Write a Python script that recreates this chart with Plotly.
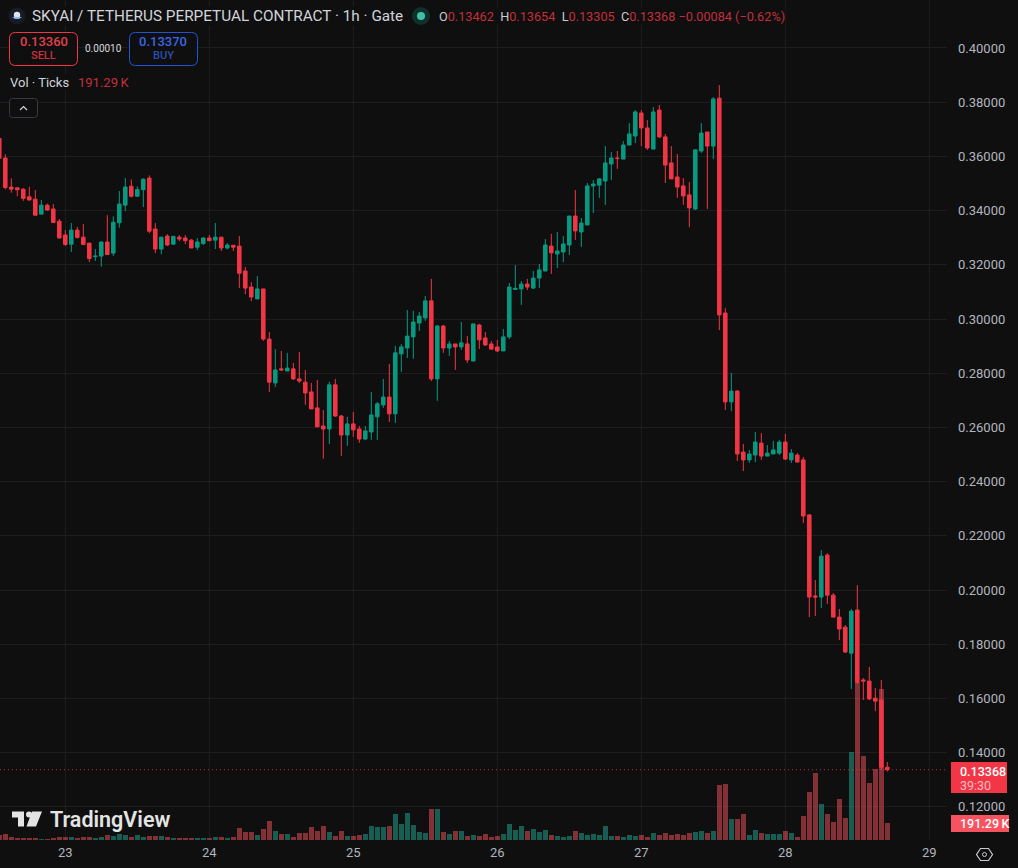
import pandas as pd
import plotly.graph_objects as go

# Hourly SKYAI/USDT perpetual candles, first bar 22nd 13:00
FIRST_BAR = "2025-01-22 13:00"

opens = [
    .3666, .3594, .3487, .3484, .3479, .3451, .3442, .3387, .3420, .3406, .3361,
    .3310, .3276, .3328, .3302, .3280, .3230, .3232, .3284, .3243, .3355, .3420, .3490, .3453, .3477,
    .3520, .3332, .3258, .3306, .3276, .3302, .3299, .3291, .3265, .3279,
    .3299, .3291, .3302, .3262, .3272, .3269, .3177, .3118, .3074, .3111, .2926, .2764, .2816, .2808,
    .2816, .2779, .2767, .2731, .2672, .2605, .2594, .2757, .2642, .2572,
    .2613, .2594, .2557, .2583, .2639, .2683, .2712, .2650, .2871, .2893, .2934, .2985, .3004, .3067,
    .2779, .2974, .2893, .2908, .2897, .2908, .2845, .2978, .2930, .2908,
    .2897, .2882, .2934, .3109, .3111, .3129, .3114, .3151, .3177, .3269, .3240, .3247, .3273, .3380,
    .3321, .3347, .3491, .3494, .3509, .3572, .3594, .3590, .3642, .3675,
    .3760, .3705, .3627, .3771, .3672, .3576, .3524, .3491, .3458, .3406, .3620, .3690, .3638, .3815,
    .3022, .2694, .2734, .2509, .2480, .2498, .2542, .2494, .2502, .2505,
    .2546, .2480, .2498, .2480, .2277, .1978, .1974, .2129, .1981, .1900, .1863, .1767, .1926, .1668,
    .1664, .1601, .1594, .13462,
]
highs = [
    .3672, .3608, .3519, .3485, .3483, .3488, .3476, .3439, .3426, .3424, .3369,
    .3328, .3354, .3340, .3350, .3280, .3258, .3286, .3383, .3379, .3472, .3520, .3515, .3490, .3519,
    .3530, .3354, .3303, .3313, .3306, .3310, .3310, .3295, .3299, .3302,
    .3310, .3354, .3303, .3280, .3273, .3306, .3192, .3136, .3158, .3111, .2952, .2889, .2882, .2875,
    .2838, .2878, .2812, .2764, .2775, .2664, .2768, .2779, .2646, .2639,
    .2657, .2605, .2605, .2731, .2694, .2779, .2834, .2901, .2908, .3033, .3030, .3026, .3085, .3148,
    .2978, .2978, .2919, .2908, .2989, .2937, .2982, .2982, .2952, .2919,
    .2923, .2963, .3133, .3199, .3140, .3148, .3177, .3203, .3295, .3314, .3321, .3306, .3380, .3476,
    .3373, .3502, .3513, .3520, .3638, .3616, .3620, .3657, .3723, .3771,
    .3771, .3734, .3782, .3790, .3683, .3638, .3609, .3520, .3505, .3627, .3723, .3690, .3819, .3863,
    .3040, .2801, .2738, .2539, .2517, .2583, .2579, .2535, .2550, .2553,
    .2576, .2520, .2505, .2491, .2280, .2037, .2147, .2136, .1989, .1930, .1871, .1930, .2018, .1675,
    .1716, .1638, .1668, .13654,
]
lows = [
    .3585, .3479, .3466, .3453, .3436, .3439, .3383, .3387, .3399, .3354, .3297,
    .3270, .3247, .3297, .3273, .3210, .3214, .3193, .3236, .3232, .3337, .3398, .3449, .3451, .3413,
    .3317, .3243, .3239, .3269, .3276, .3287, .3276, .3262, .3254, .3273,
    .3287, .3258, .3251, .3257, .3251, .3114, .3092, .3066, .3074, .2919, .2731, .2749, .2808, .2808,
    .2775, .2764, .2683, .2668, .2602, .2484, .2539, .2639, .2495, .2532,
    .2565, .2543, .2554, .2554, .2554, .2672, .2620, .2616, .2805, .2856, .2853, .2956, .2993, .2771,
    .2698, .2875, .2864, .2812, .2886, .2838, .2845, .2889, .2901, .2886,
    .2878, .2882, .2926, .3107, .3052, .3107, .3111, .3114, .3177, .3166, .3188, .3210, .3236, .3292,
    .3266, .3347, .3391, .3447, .3421, .3513, .3554, .3590, .3642, .3649,
    .3638, .3624, .3627, .3668, .3502, .3517, .3447, .3421, .3339, .3402, .3613, .3406, .3590, .2959,
    .2664, .2660, .2476, .2439, .2469, .2472, .2480, .2494, .2502, .2498,
    .2480, .2469, .2472, .2247, .1900, .1904, .1934, .1948, .1900, .1815, .1767, .1635, .1653, .1594,
    .1594, .1553, .1336, .13305,
]
closes = [
    .3593, .3485, .3479, .3477, .3445, .3439, .3383, .3420, .3402, .3356, .3299,
    .3275, .3328, .3301, .3275, .3223, .3232, .3284, .3238, .3357, .3424, .3487, .3453, .3478, .3516,
    .3324, .3258, .3302, .3273, .3305, .3295, .3289, .3262, .3284, .3299,
    .3289, .3302, .3262, .3273, .3265, .3169, .3114, .3081, .3111, .2926, .2767, .2812, .2812, .2819,
    .2779, .2771, .2727, .2668, .2602, .2594, .2757, .2642, .2572, .2613,
    .2591, .2557, .2587, .2646, .2687, .2712, .2650, .2875, .2897, .2937, .2989, .3011, .3067, .2779,
    .2974, .2893, .2908, .2897, .2912, .2849, .2982, .2923, .2904, .2889,
    .2882, .2934, .3118, .3113, .3129, .3118, .3151, .3181, .3273, .3244, .3251, .3277, .3380, .3325,
    .3354, .3491, .3498, .3517, .3576, .3594, .3592, .3642, .3683, .3764,
    .3705, .3631, .3764, .3672, .3568, .3517, .3487, .3454, .3410, .3624, .3686, .3638, .3812, .3015,
    .2694, .2734, .2502, .2480, .2502, .2546, .2494, .2505, .2517, .2546,
    .2483, .2505, .2472, .2273, .1974, .1974, .2125, .1981, .1900, .1856, .1771, .1922, .1660, .1664,
    .1598, .1590, .13462, .13368,
]
# Tick volume in thousands
volumes = [
    55, 66, 29, 18, 18, 18, 18, 15, 11, 18, 33,
    33, 29, 18, 33, 33, 18, 33, 55, 44, 66, 55, 29, 55, 33,
    44, 44, 44, 33, 18, 18, 18, 18, 18, 18,
    18, 33, 33, 18, 33, 132, 88, 88, 55, 121, 210, 99, 66, 66,
    33, 77, 77, 144, 99, 155, 88, 44, 99, 44,
    44, 55, 66, 155, 144, 144, 155, 287, 177, 298, 166, 88, 77, 342,
    342, 88, 66, 99, 99, 44, 55, 44, 66, 33,
    44, 66, 177, 110, 155, 99, 121, 88, 110, 55, 44, 33, 44, 99,
    77, 55, 66, 55, 155, 44, 44, 33, 55, 44,
    55, 33, 77, 55, 77, 55, 66, 55, 77, 88, 99, 77, 99, 607,
    618, 232, 232, 287, 55, 110, 77, 66, 66, 66,
    99, 77, 33, 265, 530, 740, 397, 287, 199, 453, 243, 972, 1748, 927,
    629, 784, 1667, 191.29,
]

DAY_TICKS = "%-d"
PRICE_TICKS = [0.12, 0.14, 0.16, 0.18, 0.20, 0.22, 0.24, 0.26, 0.28, 0.30, 0.32, 0.34, 0.36, 0.38, 0.40]
SELL_PRICE, SPREAD, BUY_PRICE = "0.13360", "0.00010", "0.13370"
OHLC_LABELS = ["O0.13462", "H0.13654", "L0.13305", "C0.13368"]
CHANGE_LABEL = "−0.00084 (−0.62%)"
COUNTDOWN = "39:30"
VOLUME_LABEL = "191.29\u2009K"

BG = "#0f0f0f"
GRID = "#1d1d1d"
UP = "#089981"
DOWN = "#f23645"
UP_VOL = "rgba(34,171,148,0.5)"
DOWN_VOL = "rgba(247,82,95,0.5)"
TEXT = "#d1d4dc"
AXIS_TEXT = "#b2b5be"
DIM_RED = "#c2303c"
FONT = "Roboto, sans-serif"

# Plot pane size in page pixels; overlays are positioned relative to it
PANE_W, PANE_H = 947, 840


def fx(x):
    return x / PANE_W


def fy(y):
    return 1 - y / PANE_H


times = pd.date_range(FIRST_BAR, periods=len(closes), freq="h")
vol_colors = [UP_VOL if c >= o else DOWN_VOL for o, c in zip(opens, closes)]

fig = go.Figure()
fig.add_bar(
    x=times, y=volumes, width=3_000_000, marker=dict(color=vol_colors, line_width=0),
    yaxis="y", hoverinfo="skip",
)
fig.add_candlestick(
    x=times, open=opens, high=highs, low=lows, close=closes, yaxis="y2", whiskerwidth=0,
    increasing=dict(line=dict(color=UP, width=1), fillcolor=UP),
    decreasing=dict(line=dict(color=DOWN, width=1), fillcolor=DOWN),
    hoverinfo="skip",
)


def text(x, y, s, size=12, color=TEXT, anchor="left", bg=None, weight=None):
    fig.add_annotation(
        x=fx(x), y=fy(y), xref="paper", yref="paper", text=s, showarrow=False,
        xanchor=anchor, yanchor="middle", borderpad=0, bgcolor=bg,
        font=dict(family=FONT, size=size, color=color, weight=weight),
    )


def rect(x0, y0, x1, y1, fill, line=None):
    fig.add_shape(
        type="rect", xref="paper", yref="paper", x0=fx(x0), x1=fx(x1), y0=fy(y0), y1=fy(y1),
        fillcolor=fill, line=dict(color=line or fill, width=1 if line else 0),
    )


def path(points, fill=None, line=None, width=1, close=True):
    d = "M" + " L".join(f"{fx(x):.5f},{fy(y):.5f}" for x, y in points) + (" Z" if close else "")
    fig.add_shape(
        type="path", xref="paper", yref="paper", path=d, fillcolor=fill or "rgba(0,0,0,0)",
        line=dict(color=line or "rgba(0,0,0,0)", width=width if line else 0),
    )


def round_box(x0, y0, x1, y1, r, fill, line):
    X = lambda v: f"{fx(v):.5f}"
    Y = lambda v: f"{fy(v):.5f}"
    d = (
        f"M{X(x0 + r)},{Y(y0)} L{X(x1 - r)},{Y(y0)} Q{X(x1)},{Y(y0)} {X(x1)},{Y(y0 + r)} "
        f"L{X(x1)},{Y(y1 - r)} Q{X(x1)},{Y(y1)} {X(x1 - r)},{Y(y1)} "
        f"L{X(x0 + r)},{Y(y1)} Q{X(x0)},{Y(y1)} {X(x0)},{Y(y1 - r)} "
        f"L{X(x0)},{Y(y0 + r)} Q{X(x0)},{Y(y0)} {X(x0 + r)},{Y(y0)} Z"
    )
    fig.add_shape(
        type="path", xref="paper", yref="paper", path=d, fillcolor=fill,
        line=dict(color=line, width=1),
    )


def circle(cx, cy, r, fill, line=None):
    fig.add_shape(
        type="circle", xref="paper", yref="paper", x0=fx(cx - r), x1=fx(cx + r),
        y0=fy(cy + r), y1=fy(cy - r), fillcolor=fill,
        line=dict(color=line or fill, width=1 if line else 0),
    )


# Last-price guide line
fig.add_shape(
    type="line", xref="paper", yref="y2", x0=0, x1=1, y0=closes[-1], y1=closes[-1],
    line=dict(color="rgba(242,54,69,0.75)", width=1, dash="1px,3px"),
)

# Symbol header
circle(17, 16, 8.5, "#161c26")
circle(17, 15, 3.2, "#dfe6f2")
path([(12, 17), (22, 17), (19, 19), (15, 19)], fill="#8fb0e0")
text(30.5, 16, "SKYAI / TETHERUS PERPETUAL CONTRACT · 1h · Gate", size=15.3, bg=BG)
circle(421, 16, 9, "#10302c")
circle(421, 16, 4, "#3cc2a5")
ohlc = "  ".join(
    f'<span style="color:#c8cad0">{s[0]}</span><span style="color:{DIM_RED}">{s[1:]}</span>'
    for s in OHLC_LABELS
)
text(437.5, 16, f'{ohlc} <span style="color:{DIM_RED}">{CHANGE_LABEL}</span>', size=12.7, bg=BG)

# Sell / spread / buy buttons
round_box(9.5, 32.5, 77.5, 65.5, 6, BG, DOWN)
text(43.5, 41.5, SELL_PRICE, size=13, color="#e0404c", anchor="center", weight=500)
text(43.5, 56, "SELL", size=11, color="#c9303c", anchor="center", weight=500)
text(103, 48.5, SPREAD, size=10, color="#d8dade", anchor="center")
round_box(129.5, 32.5, 197.5, 65.5, 6, BG, "#2156d8")
text(163, 41.5, BUY_PRICE, size=13, color="#3a66e6", anchor="center", weight=500)
text(163, 56, "BUY", size=11, color="#2a4fb4", anchor="center", weight=500)

# Volume legend and collapse button
text(9, 82.5, "Vol · Ticks", size=13, bg=BG)
text(76.5, 82.5, VOLUME_LABEL, size=13, color=DIM_RED, bg=BG)
round_box(9.5, 98.5, 37.5, 117.5, 3, BG, "#363a45")
path([(20, 110), (23.5, 106.5), (27, 110)], line="#d1d4dc", width=1.2, close=False)

# Right-hand price tags
rect(951, 762, 1007, 793, "#f23645")
text(959, 771, f"{closes[-1]:.5f}", size=12.5, color="#ffffff", weight=500)
text(959, 785, COUNTDOWN, size=12.5, color="#f9bcc1")
rect(951, 815, 1009, 832, "#f7525f")
text(959, 823.5, VOLUME_LABEL, size=12.5, color="#ffffff", weight=500)

# Watermark
path([(12, 811.5), (24, 811.5), (24, 826.5), (18, 826.5), (18, 817.5), (12, 817.5)], fill="#e4e4e4")
circle(29, 814.5, 3, "#e4e4e4")
path([(32, 811.5), (42, 811.5), (36, 826.5), (26.5, 826.5)], fill="#e4e4e4")
text(48.5, 819, "TradingView", size=21.5, color="#e4e4e4", weight=600)

# Chart settings button
path([(976.5, 854.5), (980.5, 848.5), (988.5, 848.5), (992.5, 854.5), (988.5, 860.5), (980.5, 860.5)],
     line="#c8cad0", width=1.2)
circle(984.5, 854.5, 2, BG, "#c8cad0")

fig.update_layout(
    width=1018, height=868, margin=dict(l=0, r=1018 - PANE_W, t=0, b=868 - PANE_H),
    paper_bgcolor=BG, plot_bgcolor=BG, showlegend=False, bargap=0, hovermode=False,
    font=dict(family=FONT, size=13, color=AXIS_TEXT),
    xaxis=dict(
        range=["2025-01-22 13:07", "2025-01-29 02:57"], rangeslider_visible=False,
        tick0="2025-01-23", dtick=86_400_000, tickformat=DAY_TICKS,
        showgrid=True, gridcolor=GRID, gridwidth=1, zeroline=False, showline=False, ticks="",
        ticklabelstandoff=3,
    ),
    yaxis=dict(
        range=[0, 9273], visible=False, showgrid=False, zeroline=False, fixedrange=True,
    ),
    yaxis2=dict(
        overlaying="y", side="right", range=[0.10775, 0.41771], tickvals=PRICE_TICKS,
        tickformat=".5f", showgrid=True, gridcolor=GRID, gridwidth=1, zeroline=False,
        showline=False, ticks="", ticklabelstandoff=10, fixedrange=True,
    ),
    boxgap=0.16,
)

fig.write_html("out.html", config=dict(displayModeBar=False))
